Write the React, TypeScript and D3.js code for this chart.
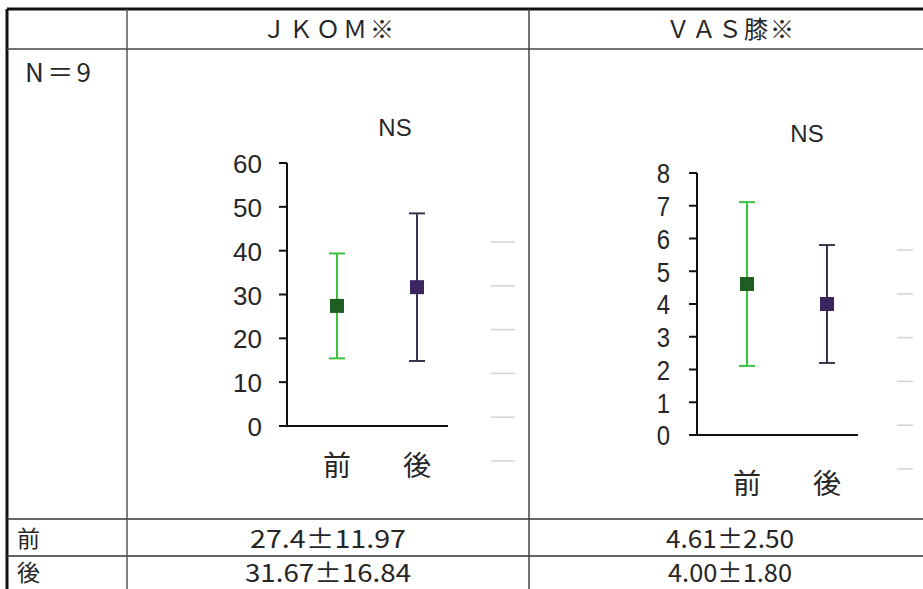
import React from 'react';
import * as d3 from 'd3';

const W = 923;
const H = 589;

// 群（前・後）
const groups = ['前', '後'];

// JKOM
const jkomMean = [27.4, 31.67];
const jkomSd = [11.97, 16.84];
const jkomTicks = [0, 10, 20, 30, 40, 50, 60];
const jkomLabels = ['27.4±11.97', '31.67±16.84'];

// VAS膝
const vasMean = [4.61, 4.0];
const vasSd = [2.5, 1.8];
const vasTicks = [0, 1, 2, 3, 4, 5, 6, 7, 8];
const vasLabels = ['4.61±2.50', '4.00±1.80'];

const barColors = ['#3cc23c', '#3d3350'];
const markerColors = ['#1e5e22', '#3a2560'];

const FONT = '"Liberation Sans", Arial, sans-serif';
const JP = '"Noto Sans CJK JP", sans-serif';
const INK = '#262626';

interface PanelProps {
  means: number[];
  sds: number[];
  ticks: number[];
  yTop: number;
  yBottom: number;
  axisX: number;
  xEnd: number;
  catX: [number, number];
  nsX: number;
  nsY: number;
  catY: number;
  labelGap: number;
  ghostX: number;
  ghostLen: number;
  ghostY0: number;
  ghostStep: number;
  tickFont: number;
  tickStretch: number;
}

const Panel: React.FC<PanelProps> = (p) => {
  const max = p.ticks[p.ticks.length - 1];
  const y = d3.scaleLinear().domain([0, max]).range([p.yBottom, p.yTop]);
  const x = d3.scalePoint<string>().domain(groups).range(p.catX);
  const cap = 8;
  return (
    <g>
      <text x={p.nsX} y={p.nsY} fontFamily={FONT} fontSize={24} textAnchor="middle" fill={INK}>NS</text>
      {/* axes */}
      <line x1={p.axisX} x2={p.axisX} y1={y(max)} y2={y(0)} stroke="#111" strokeWidth={2} />
      <line x1={p.axisX - 8} x2={p.xEnd} y1={y(0)} y2={y(0)} stroke="#111" strokeWidth={2} />
      {p.ticks.map((t) => (
        <g key={t}>
          <line x1={p.axisX - 8} x2={p.axisX} y1={y(t)} y2={y(t)} stroke="#111" strokeWidth={2} />
          <text
            transform={`translate(${p.axisX - p.labelGap},${y(t) + 1}) scale(1,${p.tickStretch})`}
            fontFamily={FONT}
            fontSize={p.tickFont}
            textAnchor="end"
            dominantBaseline="central"
            fill={INK}
          >
            {t}
          </text>
        </g>
      ))}
      {groups.map((g, i) => {
        const cx = x(g)!;
        const lo = p.means[i] - p.sds[i];
        const hi = p.means[i] + p.sds[i];
        return (
          <g key={g}>
            <line x1={cx} x2={cx} y1={y(hi)} y2={y(lo)} stroke={barColors[i]} strokeWidth={2} />
            <line x1={cx - cap} x2={cx + cap} y1={y(hi)} y2={y(hi)} stroke={barColors[i]} strokeWidth={2} />
            <line x1={cx - cap} x2={cx + cap} y1={y(lo)} y2={y(lo)} stroke={barColors[i]} strokeWidth={2} />
            <rect x={cx - 7} y={y(p.means[i]) - 7} width={14} height={14} fill={markerColors[i]} />
            <text x={cx} y={p.catY} fontFamily={JP} fontSize={28} textAnchor="middle" fill={INK}>
              {g}
            </text>
          </g>
        );
      })}
      {/* faint ghost marks at right */}
      {d3.range(6).map((i) => (
        <line
          key={i}
          x1={p.ghostX}
          x2={p.ghostX + p.ghostLen}
          y1={p.ghostY0 + i * p.ghostStep}
          y2={p.ghostY0 + i * p.ghostStep}
          stroke="#d4d4d4"
          strokeWidth={1.5}
        />
      ))}
    </g>
  );
};

const App: React.FC = () => {
  const colL = 7;
  const col1 = 127;
  const col2 = 529;
  const rowTop = 9;
  const rowHead = 49;
  const row1 = 519;
  const row2 = 556;
  const valX1 = 328;
  const valX2 = 730;
  const rowY = [537, 571];
  const jkomW = [156, 166];
  const vasW = [128, 124];
  return (
    <svg
      width={W}
      height={H}
      viewBox={`0 0 ${W} ${H}`}
      style={{ position: 'absolute', left: 0, top: 0, background: '#fff' }}
    >
      <rect width={W} height={H} fill="#fff" />
      {/* table grid */}
      <line x1={colL} x2={W} y1={rowTop} y2={rowTop} stroke="#111" strokeWidth={3} />
      <line x1={colL} x2={colL} y1={rowTop} y2={H} stroke="#111" strokeWidth={3} />
      <line x1={colL} x2={W} y1={rowHead} y2={rowHead} stroke="#444" strokeWidth={1.5} />
      <line x1={colL} x2={W} y1={row1} y2={row1} stroke="#333" strokeWidth={1.5} />
      <line x1={colL} x2={W} y1={row2} y2={row2} stroke="#333" strokeWidth={1.5} />
      <line x1={col1} x2={col1} y1={rowTop} y2={H} stroke="#555" strokeWidth={1.5} />
      <line x1={col2} x2={col2} y1={rowTop} y2={H} stroke="#444" strokeWidth={1.5} />

      {/* headers */}
      <text
        x={valX1 - 66}
        y={38}
        fontFamily={JP}
        fontSize={24}
        textLength={132}
        lengthAdjust="spacing"
        fill={INK}
      >
        ＪＫＯＭ※
      </text>
      <text
        x={valX2 - 64}
        y={38}
        fontFamily={JP}
        fontSize={24}
        textLength={128}
        lengthAdjust="spacing"
        fill={INK}
      >
        ＶＡＳ膝※
      </text>
      <text x={25} y={82} fontFamily={JP} fontSize={26} textLength={66} lengthAdjust="spacing" fill={INK}>
        N＝9
      </text>

      <Panel
        means={jkomMean}
        sds={jkomSd}
        ticks={jkomTicks}
        yTop={163}
        yBottom={426}
        axisX={287}
        xEnd={448}
        catX={[337, 417]}
        nsX={395}
        nsY={136}
        catY={476}
        labelGap={25}
        ghostX={491}
        ghostLen={24}
        ghostY0={242}
        ghostStep={43.8}
        tickFont={26}
        tickStretch={1}
      />
      <Panel
        means={vasMean}
        sds={vasSd}
        ticks={vasTicks}
        yTop={173}
        yBottom={435}
        axisX={697}
        xEnd={858}
        catX={[747, 827]}
        nsX={807}
        nsY={142}
        catY={494}
        labelGap={27}
        ghostX={897}
        ghostLen={16}
        ghostY0={250}
        ghostStep={43.8}
        tickFont={24}
        tickStretch={1.12}
      />

      {/* values rows */}
      {groups.map((g, i) => (
        <g key={g}>
          <text x={17} y={rowY[i]} fontFamily={JP} fontSize={23} dominantBaseline="central" fill={INK}>{g}</text>
          <text
            x={valX1 - jkomW[i] / 2}
            y={rowY[i]}
            fontFamily={JP}
            fontSize={25}
            dominantBaseline="central"
            textLength={jkomW[i]}
            lengthAdjust="spacingAndGlyphs"
            fill={INK}
          >
            {jkomLabels[i]}
          </text>
          <text
            x={valX2 - vasW[i] / 2}
            y={rowY[i]}
            fontFamily={JP}
            fontSize={25}
            dominantBaseline="central"
            textLength={vasW[i]}
            lengthAdjust="spacingAndGlyphs"
            fill={INK}
          >
            {vasLabels[i]}
          </text>
        </g>
      ))}
    </svg>
  );
};

export default App;
